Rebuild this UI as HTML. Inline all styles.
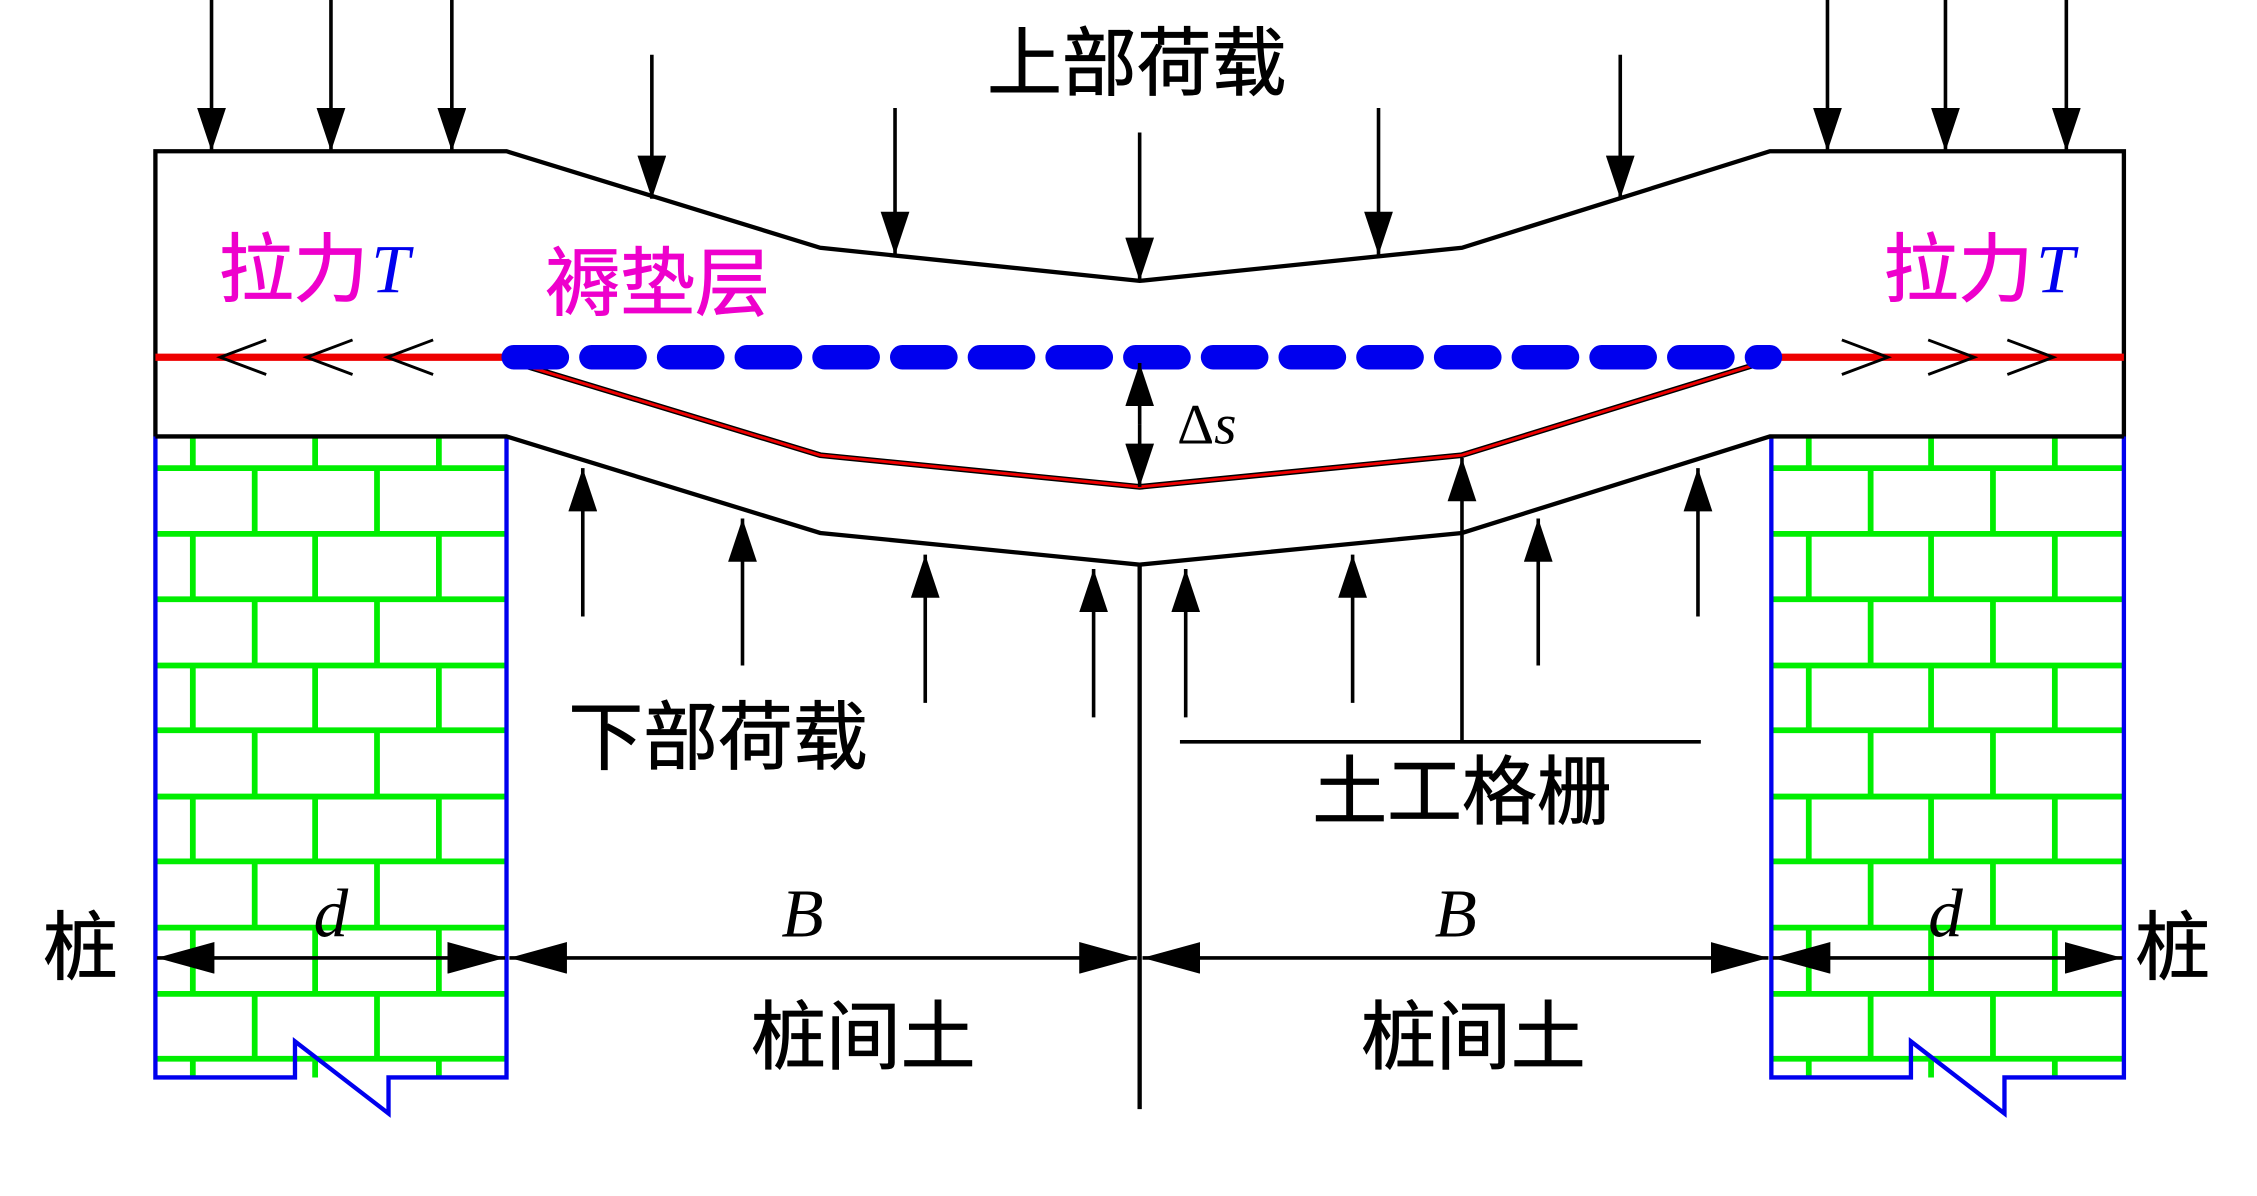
<!DOCTYPE html>
<html><head><meta charset="utf-8"><style>html,body{margin:0;padding:0;background:#fff}svg{display:block}</style></head>
<body>
<svg width="2257" height="1196" viewBox="0 0 1568.5 830.3" preserveAspectRatio="none" xmlns="http://www.w3.org/2000/svg">
<defs>
<marker id="ah" viewBox="0 0 30 20" refX="30" refY="10" markerWidth="30" markerHeight="20" markerUnits="userSpaceOnUse" orient="auto"><path d="M0,0 L30,10 L0,20 z" fill="#000"/></marker>
<marker id="ad" viewBox="0 0 40 22" refX="40" refY="11" markerWidth="40" markerHeight="22" markerUnits="userSpaceOnUse" orient="auto-start-reverse"><path d="M0,0 L40,11 L0,22 z" fill="#000"/></marker>
</defs>
<rect width="1570" height="831" fill="#fff"/>
<g stroke="#00ee00" stroke-width="4" fill="none">
<g id="bricks">
<path d="M108,325H352M108,370.6H352M108,416H352M108,462H352M108,507H352M108,553H352M108,598H352M108,644H352M108,690H352M108,735H352"/>
<path d="M134,303V325M219,303V325M305,303V325
M177,325V370.6M262,325V370.6
M134,370.6V416M219,370.6V416M305,370.6V416
M177,416V462M262,416V462
M134,462V507M219,462V507M305,462V507
M177,507V553M262,507V553
M134,553V598M219,553V598M305,553V598
M177,598V644M262,598V644
M134,644V690M219,644V690M305,644V690
M177,690V735M262,690V735
M134,735V748M219,735V748M305,735V748"/>
</g>
<use href="#bricks" transform="translate(1123,0)"/>
</g>
<g stroke="#0000ee" stroke-width="3" fill="none">
<path d="M108,303V748H205V723L270,773V748H352V303"/>
<path d="M1231,303V748H1328V723L1393,773V748H1476V303"/>
</g>
<g stroke="#000" stroke-width="3" fill="none">
<path d="M108,303V105H352L570,172L792,195L1016,172L1230,105H1476V303"/>
<path d="M108,303H352L570,370L792,392L1016,370L1230,303H1476"/>
<path d="M352,250L570,316L792,338L1016,316L1230,250" stroke-width="4"/>
<path d="M792,392V770"/>
</g>
<path d="M352,250L570,316L792,338L1016,316L1230,250" stroke="#ee0000" stroke-width="2" fill="none"/>
<path d="M108,248H355M1226,248H1476" stroke="#ee0000" stroke-width="5"/>
<g stroke="#000" stroke-width="2" fill="none">
<path d="M185,236L153,248L185,260M245,236L213,248L245,260M301,236L269,248L301,260"/>
<path d="M1280,236L1312,248L1280,260M1340,236L1372,248L1340,260M1395,236L1427,248L1395,260"/>
</g>
<path d="M357,248H1230" stroke="#0000ee" stroke-width="17" stroke-linecap="round" stroke-dasharray="30 24" fill="none"/>
<g stroke="#000" stroke-width="2.5" marker-end="url(#ah)">
<line x1="147" y1="0" x2="147" y2="105"/><line x1="230" y1="0" x2="230" y2="105"/><line x1="314" y1="0" x2="314" y2="105"/>
<line x1="453" y1="38" x2="453" y2="138"/><line x1="622" y1="75" x2="622" y2="177"/><line x1="792" y1="92" x2="792" y2="195"/>
<line x1="958" y1="75" x2="958" y2="177"/><line x1="1126" y1="38" x2="1126" y2="138"/>
<line x1="1270" y1="0" x2="1270" y2="105"/><line x1="1352" y1="0" x2="1352" y2="105"/><line x1="1436" y1="0" x2="1436" y2="105"/>
<line x1="405" y1="428" x2="405" y2="325"/><line x1="516" y1="462" x2="516" y2="360"/><line x1="643" y1="488" x2="643" y2="385"/><line x1="760" y1="498" x2="760" y2="395"/>
<line x1="824" y1="498" x2="824" y2="395"/><line x1="940" y1="488" x2="940" y2="385"/><line x1="1069" y1="462" x2="1069" y2="360"/><line x1="1180" y1="428" x2="1180" y2="325"/>
<line x1="1016" y1="515" x2="1016" y2="318"/>
</g>
<g stroke="#000" stroke-width="2.5" marker-end="url(#ah)">
<line x1="792" y1="295" x2="792" y2="252"/><line x1="792" y1="295" x2="792" y2="338"/>
</g>
<line x1="820" y1="515" x2="1182" y2="515" stroke="#000" stroke-width="2.5"/>
<g stroke="#000" stroke-width="2.5" marker-start="url(#ad)" marker-end="url(#ad)">
<line x1="109" y1="665" x2="351" y2="665"/>
<line x1="354" y1="665" x2="790" y2="665"/>
<line x1="794" y1="665" x2="1229" y2="665"/>
<line x1="1232" y1="665" x2="1475" y2="665"/>
</g>
<g font-family="'Liberation Sans','Noto Sans CJK SC',sans-serif" font-size="52" fill="#000" stroke="#000" stroke-width="0.6">
<text x="686" y="62">上部荷载</text>
<text x="395" y="530">下部荷载</text>
<text x="912" y="568">土工格栅</text>
<text x="30" y="676">桩</text>
<text x="1484" y="676">桩</text>
<text x="522" y="738">桩间土</text>
<text x="946" y="738">桩间土</text>
<text x="152" y="205" fill="#ee00cc" stroke="#ee00cc">拉力</text>
<text x="1309" y="205" fill="#ee00cc" stroke="#ee00cc">拉力</text>
<text x="379" y="215" fill="#ee00cc" stroke="#ee00cc">褥垫层</text>
</g>
<g font-family="'Liberation Serif',serif" font-size="48" font-style="italic">
<text x="258" y="203" fill="#0000ee">T</text>
<text x="1415" y="203" fill="#0000ee">T</text>
<text x="218" y="650">d</text>
<text x="1340" y="650">d</text>
<text x="543" y="650">B</text>
<text x="997" y="650">B</text>
</g>
<text x="818" y="308" font-family="'Liberation Serif',serif" font-size="40">Δ<tspan font-style="italic">s</tspan></text>
</svg>
</body></html>
